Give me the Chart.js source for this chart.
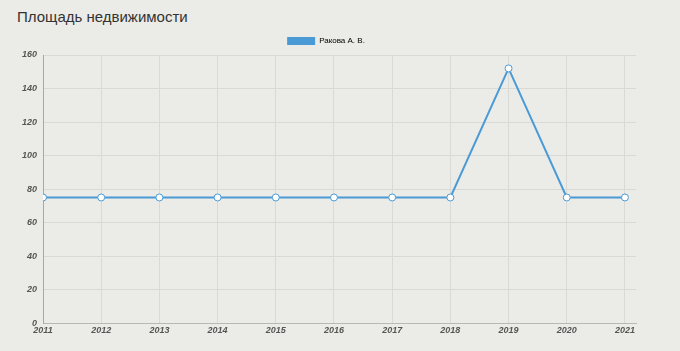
<!DOCTYPE html>
<html>
<head>
<meta charset="utf-8">
<script src="https://cdn.jsdelivr.net/npm/chart.js@4"></script>
<style>
    body { margin: 0; background: #ebebe7; width: 680px; height: 351px; overflow: hidden; font-family: "Liberation Sans", Arial, sans-serif; }
    h3 { position: absolute; left: 17px; top: 8px; margin: 0; font-size: 15px; font-weight: normal; color: #333; }
    #wrap { position: absolute; left: 0; top: 31px; width: 680px; height: 307px; }
</style>
</head>
<body>
<h3>Площадь недвижимости</h3>
<div id="wrap"><canvas id="myChart"></canvas></div>
<script>
// Площадь по годам
const years = [2011, 2012, 2013, 2014, 2015, 2016, 2017, 2018, 2019, 2020, 2021];
const area = [75, 75, 75, 75, 75, 75, 75, 75, 152, 75, 75];
const seriesName = 'Ракова А. В.';

const points = years.map(function (y, i) { return { x: y, y: area[i] }; });

const tickFont = { family: '"Liberation Sans", Arial', size: 9, style: 'italic', weight: 'bold' };

const config = {
    type: 'line',
    data: {
        datasets: [{
            label: seriesName,
            data: points,
            borderColor: '#4a9ad6',
            backgroundColor: '#4a9ad6',
            borderWidth: 2,
            pointBackgroundColor: '#ffffff',
            pointBorderColor: '#4a9ad6',
            pointBorderWidth: 1,
            pointRadius: 3.5,
            tension: 0
        }]
    },
    options: {
        responsive: true,
        maintainAspectRatio: false,
        animation: false,
        layout: { padding: { left: 16, right: 44, top: 0, bottom: 0 } },
        plugins: {
            legend: {
                labels: {
                    boxWidth: 28,
                    boxHeight: 8,
                    padding: 6,
                    color: '#666',
                    font: { family: '"Liberation Sans", Arial', size: 8 },
                    generateLabels: function (chart) {
                        return [{ text: seriesName, fillStyle: '#4a9ad6', strokeStyle: '#4a9ad6', lineWidth: 0, datasetIndex: 0 }];
                    }
                }
            },
            tooltip: { enabled: false }
        },
        scales: {
            x: {
                type: 'linear',
                min: 2011,
                max: 2021.19,
                afterBuildTicks: function (axis) {
                    axis.ticks = years.map(function (v) { return { value: v }; });
                },
                ticks: {
                    autoSkip: false,
                    maxRotation: 0,
                    color: '#555',
                    font: tickFont,
                    padding: 2,
                    callback: function (v) { return String(v); }
                },
                grid: { color: '#d9d9d5', drawTicks: false },
                border: { color: '#b8b8b4' }
            },
            y: {
                min: 0,
                max: 160,
                ticks: { stepSize: 20, color: '#555', font: tickFont, padding: 6 },
                grid: { color: '#d9d9d5', drawTicks: false },
                border: { color: '#a8a8a4' }
            }
        }
    }
};

const myChart = new Chart(document.getElementById('myChart'), config);
</script>
</body>
</html>
